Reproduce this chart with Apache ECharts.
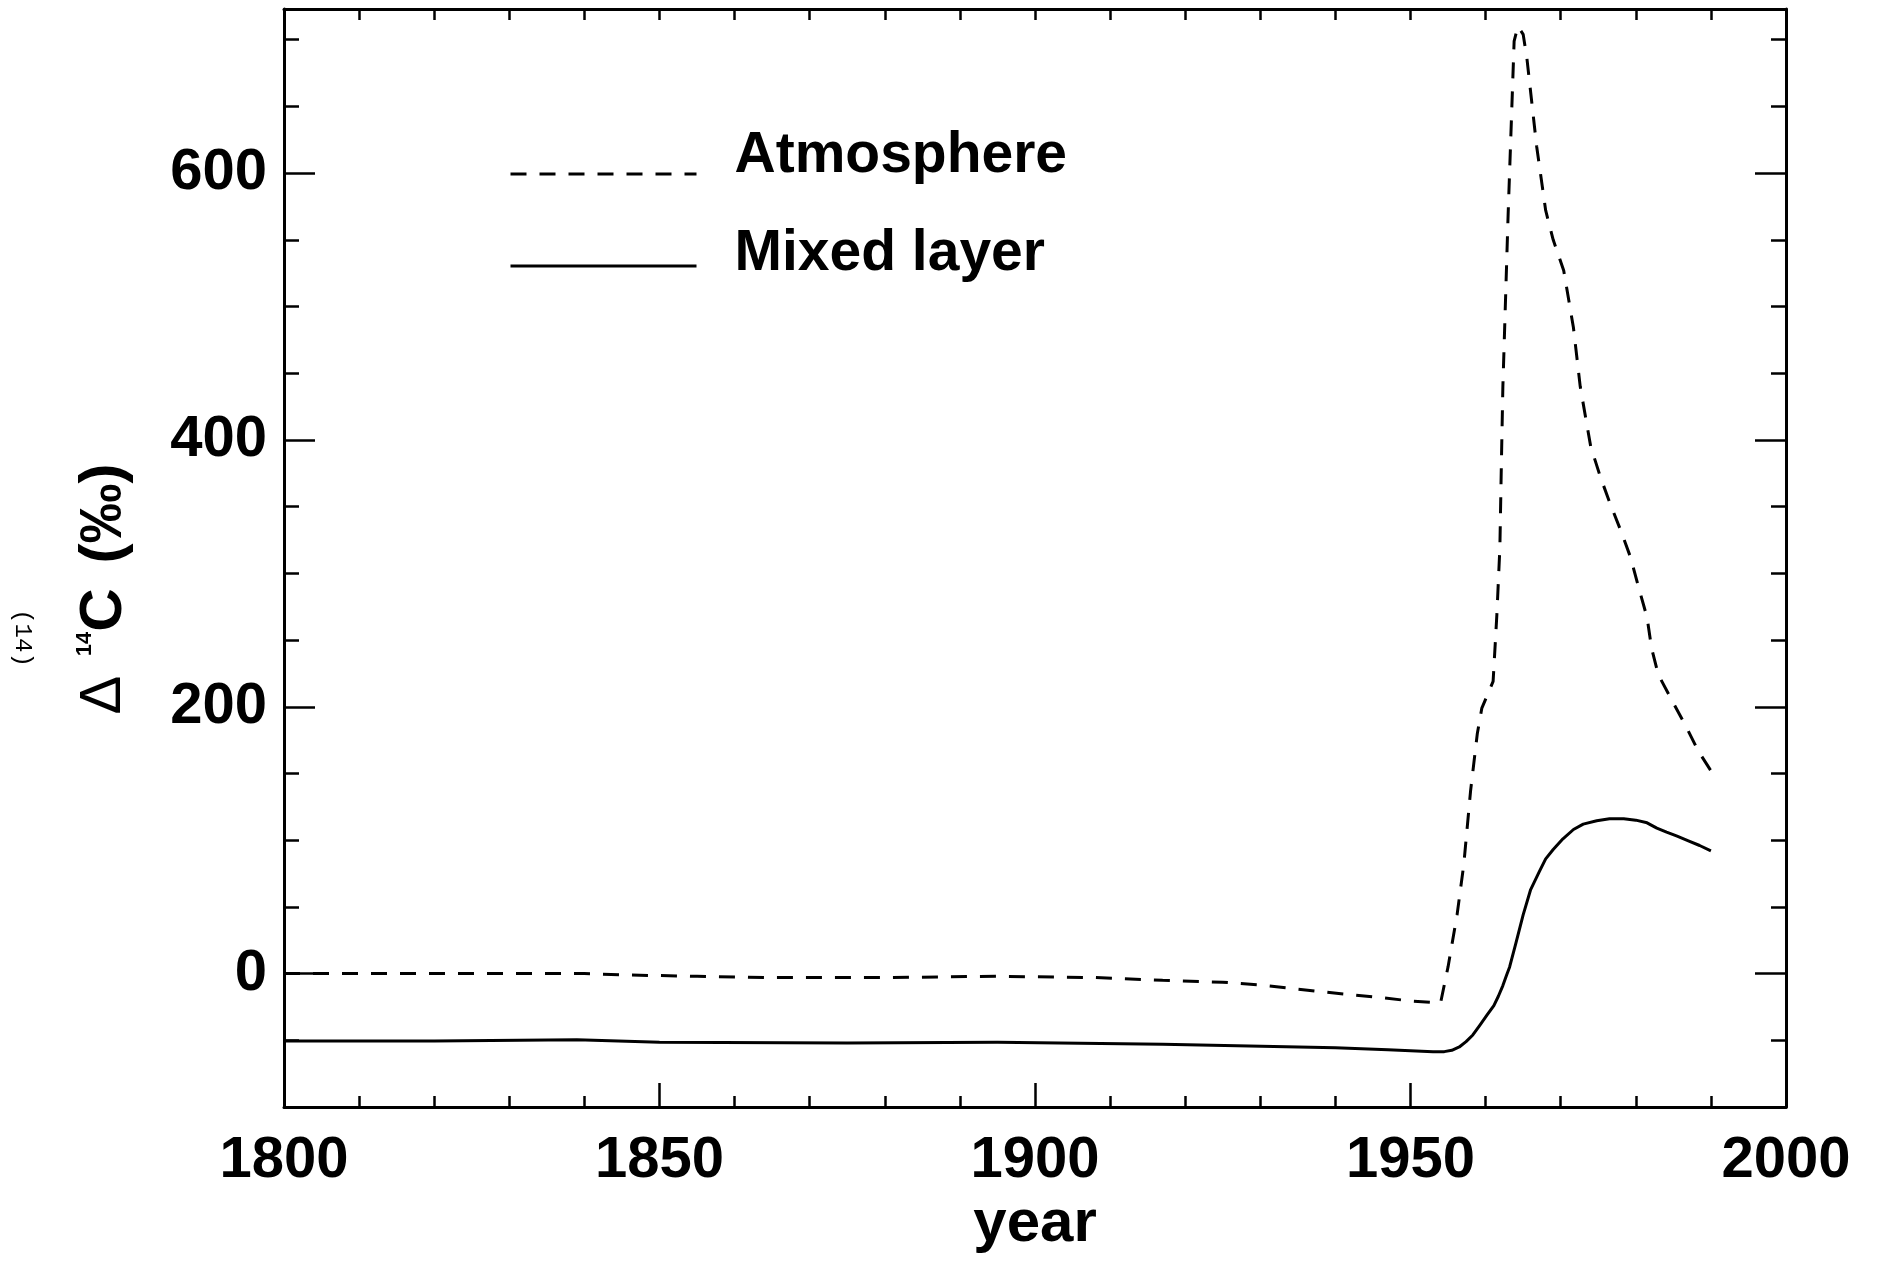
<!DOCTYPE html>
<html>
<head>
<meta charset="utf-8">
<script src="https://cdn.jsdelivr.net/npm/echarts@6/dist/echarts.min.js"></script>
<style>
  html, body { margin: 0; padding: 0; background: #fff; }
  #chart { width: 1878px; height: 1262px; }
</style>
</head>
<body>
<div id="chart"></div>
<script>
// ---- data ----
const atmYears = [1800,1820,1840,1845,1855,1865,1880,1895,1908,1917,1925,1930,1938,1946,1950,1954,1955,1956.2,1957.1,1958,1958.9,1959.5,1961,1961.5,1961.9,1962.1,1962.3,1963,1963.8,1964.3,1965,1965.5,1966.8,1968,1969,1970.4,1971.7,1972.6,1974,1975.3,1976.6,1978,1979.3,1980.4,1981.5,1982.1,1983,1984.6,1986.8,1988.3,1990];
const atmValues = [0,0,0,-1,-2,-3,-3,-2,-3,-5,-6.5,-8.5,-13.5,-18,-20.5,-22,5,44,82,137,180,199,219,269,319,382,440,569,699,710,704,686,620,572,550,527,484,440,395,372,352,332,312,289,267,244,224,207,184,167,152];
const mixYears = [1800,1820,1839,1850,1875,1895,1917,1940,1947,1953,1954.5,1955.5,1956.5,1957.4,1958.3,1959.2,1960.2,1961.1,1961.7,1962.3,1962.8,1963.2,1964,1965,1966,1967.2,1968,1969,1970.3,1971.7,1973,1974.8,1976.5,1978.4,1980,1981.5,1982.8,1984.1,1985.5,1987,1988.5,1990];
const mixValues = [-50.5,-50.5,-49.5,-51.5,-52,-51.5,-53,-55.5,-57,-58.5,-58.5,-57.5,-55,-51,-46,-39,-31,-24,-17,-9,-1,5,22,44,63,77,86,93,101,108,112,114.5,116,116,115,113,109,106,103,99.5,96,92];
const xLabels = [1800, 1850, 1900, 1950, 2000];
const yLabels = [0, 200, 400, 600];
const seriesNames = ['Atmosphere', 'Mixed layer'];

const zip = (xs, ys) => xs.map((x, i) => [x, ys[i]]);
const FONT = "'Liberation Sans', Arial, Helvetica, sans-serif";
const BLACK = '#000';

const chart = echarts.init(document.getElementById('chart'), null, { renderer: 'canvas' });

const yRange = { min: -100, max: 723 };
const xRange = { min: 1800, max: 2000 };

function legendFor(name, top, boxHeight, dash) {
  return {
    data: [name], left: 509, top: top, padding: 0,
    itemWidth: 186, itemHeight: 14,
    formatter: '{a|{name}}{z| }',
    itemStyle: { opacity: 0, borderWidth: 0 },
    lineStyle: { width: 3, type: dash, color: BLACK },
    textStyle: {
      color: BLACK, padding: [0, 0, 0, 33],
      rich: {
        a: { fontFamily: FONT, fontWeight: 'bold', fontSize: 57, lineHeight: 60, verticalAlign: 'top', color: BLACK },
        z: { fontFamily: FONT, fontSize: 2, lineHeight: boxHeight }
      }
    }
  };
}

const option = {
  animation: false,
  backgroundColor: '#fff',
  grid: { left: 284, right: 92, top: 9, bottom: 155, containLabel: false, outerBoundsMode: 'none' },
  legend: [
    legendFor(seriesNames[0], 128, 92, [16, 13]),
    legendFor(seriesNames[1], 226, 80, 'solid')
  ],
  xAxis: [
    {
      type: 'value', position: 'bottom', min: xRange.min, max: xRange.max, interval: 50,
      name: 'year', nameLocation: 'middle', nameGap: 74,
      nameTextStyle: { fontFamily: FONT, fontWeight: 'bold', fontSize: 60, lineHeight: 60, color: BLACK },
      axisLine: { show: true, onZero: false, lineStyle: { color: BLACK, width: 3 } },
      axisTick: { show: true, inside: true, length: 24, lineStyle: { color: BLACK, width: 2.5 } },
      minorTick: { show: true, splitNumber: 5, length: 11, lineStyle: { color: BLACK, width: 2.5 } },
      axisLabel: { show: true, customValues: xLabels, formatter: v => String(v), margin: 25, fontFamily: FONT, fontWeight: 'bold', fontSize: 58, lineHeight: 58, color: BLACK },
      splitLine: { show: false }, minorSplitLine: { show: false }
    },
    {
      type: 'value', position: 'top', min: xRange.min, max: xRange.max, interval: 10,
      axisLine: { show: true, onZero: false, lineStyle: { color: BLACK, width: 3 } },
      axisTick: { show: true, inside: true, length: 11, lineStyle: { color: BLACK, width: 2.5 } },
      axisLabel: { show: false }, splitLine: { show: false }
    }
  ],
  yAxis: [
    {
      type: 'value', position: 'left', min: yRange.min, max: yRange.max, interval: 50,
      name: '{d|\u0394}{g| }{s|14}{c|C}{g2| }{c|(\u2030)}', nameLocation: 'middle', nameRotate: 90, nameGap: 150,
      nameTextStyle: {
        color: BLACK, padding: [0, 62, 0, 0],
        rich: {
          d: { fontFamily: FONT, fontWeight: 'normal', fontSize: 58, lineHeight: 60, color: BLACK },
          g: { fontFamily: FONT, fontSize: 70, lineHeight: 60 },
          g2: { fontFamily: FONT, fontSize: 90, lineHeight: 60 },
          s: { fontFamily: FONT, fontWeight: 'bold', fontSize: 22, lineHeight: 31, verticalAlign: 'top', color: BLACK },
          c: { fontFamily: FONT, fontWeight: 'bold', fontSize: 60, lineHeight: 60, color: BLACK }
        }
      },
      axisLine: { show: true, onZero: false, lineStyle: { color: BLACK, width: 3 } },
      axisTick: { show: true, inside: true, length: 15, lineStyle: { color: BLACK, width: 2.5 } },
      axisLabel: { show: true, customValues: yLabels, margin: 17, fontFamily: FONT, fontWeight: 'bold', fontSize: 58, color: BLACK },
      splitLine: { show: false }
    },
    {
      type: 'value', position: 'left', min: yRange.min, max: yRange.max, interval: 50,
      axisLine: { show: false, onZero: false },
      axisTick: { show: true, inside: true, length: 31, customValues: yLabels, lineStyle: { color: BLACK, width: 2.5 } },
      axisLabel: { show: false }, splitLine: { show: false }
    },
    {
      type: 'value', position: 'right', min: yRange.min, max: yRange.max, interval: 50,
      axisLine: { show: true, onZero: false, lineStyle: { color: BLACK, width: 3 } },
      axisTick: { show: true, inside: true, length: 15, lineStyle: { color: BLACK, width: 2.5 } },
      axisLabel: { show: false }, splitLine: { show: false }
    },
    {
      type: 'value', position: 'right', min: yRange.min, max: yRange.max, interval: 50,
      axisLine: { show: false, onZero: false },
      axisTick: { show: true, inside: true, length: 31, customValues: yLabels, lineStyle: { color: BLACK, width: 2.5 } },
      axisLabel: { show: false }, splitLine: { show: false }
    }
  ],
  graphic: [
    {
      type: 'text', x: 22, y: 638, rotation: -Math.PI / 2,
      style: { text: '(14)', font: "24px 'Liberation Mono', 'DejaVu Sans Mono', monospace", fill: BLACK,
               textAlign: 'center', textVerticalAlign: 'middle', align: 'center', verticalAlign: 'middle' }
    }
  ],
  series: [
    {
      name: seriesNames[0], type: 'line', xAxisIndex: 0, yAxisIndex: 0,
      data: zip(atmYears, atmValues), showSymbol: false, symbol: 'none',
      lineStyle: { color: BLACK, width: 3, type: [16, 13] }, itemStyle: { color: BLACK },
      smooth: false
    },
    {
      name: seriesNames[1], type: 'line', xAxisIndex: 0, yAxisIndex: 0,
      data: zip(mixYears, mixValues), showSymbol: false, symbol: 'none',
      lineStyle: { color: BLACK, width: 3, type: 'solid', join: 'round' }, itemStyle: { color: BLACK },
      smooth: false
    }
  ]
};
chart.setOption(option);
</script>
</body>
</html>
